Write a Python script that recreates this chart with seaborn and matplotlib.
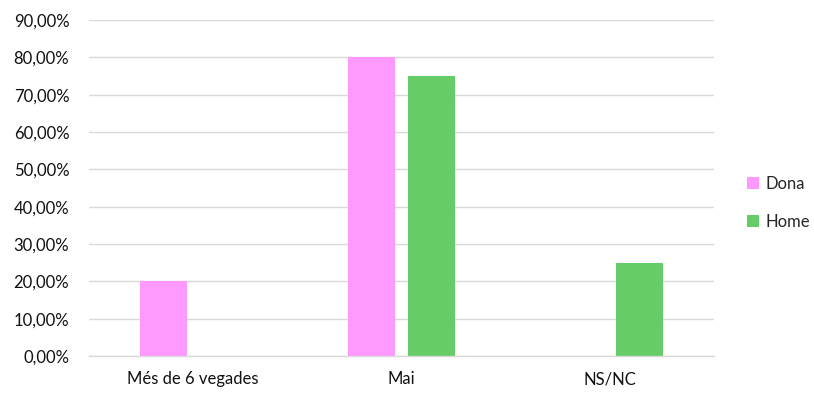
import matplotlib
matplotlib.use("Agg")
import matplotlib.pyplot as plt
import seaborn as sns
import pandas as pd
from matplotlib.ticker import FuncFormatter
from matplotlib.patches import Patch

categories = ["Més de 6 vegades", "Mai", "NS/NC"]
dona = [20.0, 80.0, 0.0]
home = [0.0, 75.0, 25.0]
series = ["Dona", "Home"]
colors = ["#FF99FF", "#66CC66"]

df = pd.DataFrame({
    "cat": categories * 2,
    "val": dona + home,
    "sex": ["Dona"] * 3 + ["Home"] * 3,
})

sns.set_theme(style="white")
plt.rcParams["font.family"] = ["Lato", "DejaVu Sans"]

fig = plt.figure(figsize=(8.14, 3.94), dpi=100)
ax = fig.add_axes([0.109, 0.096, 0.768, 0.853])

sns.barplot(data=df, x="cat", y="val", hue="sex", order=categories,
            hue_order=series, palette=colors, width=0.573, gap=0.215,
            ax=ax, legend=False, saturation=1, linewidth=0)

ax.set_ylim(0, 90)
ax.set_xlim(-0.5, 2.5)
ax.set_yticks(range(0, 91, 10))
ax.yaxis.set_major_formatter(FuncFormatter(lambda v, p: f"{v:.2f}%".replace(".", ",")))
ax.grid(axis="y", color="#D9D9D9", linewidth=1)
ax.set_axisbelow(True)
for s in ["top", "right", "left"]:
    ax.spines[s].set_visible(False)
ax.spines["bottom"].set_color("#D9D9D9")
ax.spines["bottom"].set_linewidth(1)
ax.set_xlabel("")
ax.set_ylabel("")
ax.tick_params(axis="both", length=0, labelsize=12, labelcolor="#111111")
ax.tick_params(axis="y", pad=14)
ax.tick_params(axis="x", pad=11)

handles = [Patch(facecolor=c, edgecolor="none") for c in colors]
fig.legend(handles, series, loc="center left", bbox_to_anchor=(0.909, 0.485),
           frameon=False, fontsize=12, handlelength=0.75, handleheight=0.75,
           handletextpad=0.4, labelspacing=1.3, borderaxespad=0)

fig.savefig("out.png", dpi=100)
